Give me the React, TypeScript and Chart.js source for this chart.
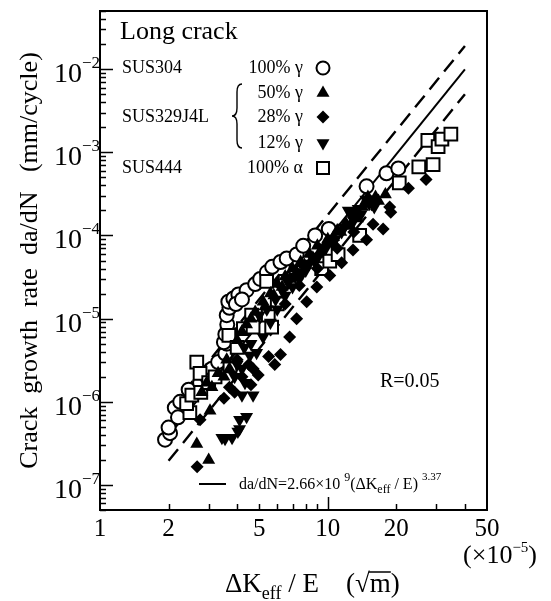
import React, { useEffect, useRef } from 'react';
import { Chart, registerables } from 'chart.js';

Chart.register(...registerables);

const FONT = "'Liberation Serif', 'Times New Roman', Times, serif";

// Axis ranges (x in units of 1e-5 sqrt(m), y in mm/cycle)
const xMin = 1;
const xMax = 50;
const yMin = 5e-8;
const yMax = 5e-2;
const xTickValues = [1, 2, 5, 10, 20, 50];
const xTickLabels = ['1', '2', '5', '10', '20', '50'];
const yTickExponents = [-7, -6, -5, -4, -3, -2];
const yTickLabels = ['−7', '−6', '−5', '−4', '−3', '−2'];

// SUS304, 100% gamma (open circles)
const sus304 = [
  [1.93, 3.5e-7], [2.03, 4.2e-7], [2.0, 4.9e-7], [2.13, 8.5e-7], [2.2, 6.5e-7], [2.25, 1.0e-6],
  [2.45, 1.4e-6], [2.75, 1.7e-6], [2.95, 2.0e-6], [3.1, 2.5e-6], [3.3, 3.0e-6], [3.55, 3.8e-6],
  [3.6, 5.0e-6], [3.5, 5.2e-6], [3.55, 6.5e-6], [3.62, 8.5e-6], [3.6, 1.1e-5], [3.7, 1.35e-5],
  [3.66, 1.6e-5], [3.85, 1.75e-5], [4.05, 1.95e-5], [3.95, 1.5e-5], [4.4, 2.2e-5], [4.2, 1.7e-5],
  [4.8, 2.6e-5], [5.05, 3.0e-5], [5.4, 3.6e-5], [5.7, 4.2e-5], [6.2, 4.8e-5], [6.6, 5.3e-5],
  [7.3, 5.9e-5], [7.8, 7.5e-5], [8.8, 1.0e-4], [10.1, 1.2e-4], [14.8, 3.9e-4], [18.1, 5.6e-4],
  [20.4, 6.4e-4],
];

// SUS329J4L, 50% gamma (filled triangles)
const g50 = [
  [2.66, 3.1e-7], [3.0, 2.0e-7], [3.04, 7.8e-7], [2.94, 1.7e-6], [2.8, 1.3e-6], [3.3, 2.2e-6],
  [3.1, 1.5e-6], [3.5, 2.0e-6], [3.7, 2.5e-6], [3.6, 3.2e-6], [4.0, 5.5e-6], [4.2, 7.0e-6],
  [4.4, 8.5e-6], [4.6, 1.0e-5], [4.8, 1.2e-5], [5.2, 1.6e-5], [5.3, 1.4e-5], [5.6, 2.0e-5],
  [5.8, 1.9e-5], [6.0, 2.6e-5], [6.3, 2.4e-5], [6.5, 3.2e-5], [6.8, 3.0e-5], [7.0, 4.0e-5],
  [7.3, 3.6e-5], [7.6, 4.8e-5], [7.9, 4.4e-5], [8.3, 6.0e-5], [8.6, 5.4e-5], [9.0, 7.5e-5],
  [9.3, 6.6e-5], [9.8, 8.0e-5], [10.0, 9.0e-5], [10.6, 9.5e-5], [11.0, 1.15e-4], [11.4, 1.1e-4],
  [12.0, 1.4e-4], [12.5, 1.3e-4], [13.0, 1.8e-4], [13.5, 1.6e-4], [14.2, 2.2e-4], [14.5, 2.4e-4],
  [15.0, 2.9e-4], [15.5, 2.5e-4], [16.2, 2.9e-4], [16.7, 2.6e-4], [17.9, 3.1e-4],
];

// SUS329J4L, 28% gamma (filled diamonds)
const g28 = [
  [2.67, 1.66e-7], [2.75, 6.1e-7], [3.5, 1.1e-6], [3.7, 1.5e-6], [3.9, 1.3e-6], [4.2, 2.0e-6],
  [4.0, 3.2e-6], [4.5, 2.8e-6], [4.6, 1.6e-6], [4.95, 2.1e-6], [4.7, 2.5e-6], [5.5, 3.5e-6],
  [5.85, 2.8e-6], [6.2, 3.7e-6], [6.8, 6.0e-6], [7.3, 1.0e-5], [6.5, 1.5e-5], [8.08, 1.6e-5],
  [7.5, 2.5e-5], [8.95, 2.4e-5], [9.0, 4.0e-5], [10.2, 3.3e-5], [11.5, 4.7e-5], [11.0, 7.0e-5],
  [12.9, 6.7e-5], [13.0, 1.1e-4], [14.8, 8.9e-5], [17.5, 1.2e-4], [15.8, 1.36e-4], [18.9, 1.9e-4],
  [18.7, 2.2e-4], [22.6, 3.7e-4], [27.0, 4.7e-4],
];

// SUS329J4L, 12% gamma (filled inverted triangles)
const g12 = [
  [3.54, 3.6e-7], [3.43, 3.7e-7], [3.8, 3.7e-7], [4.03, 4.4e-7], [4.1, 4.7e-7], [4.1, 6.1e-7],
  [4.4, 6.6e-7], [4.2, 1.2e-6], [4.33, 1.7e-6], [4.7, 1.2e-6], [3.9, 2.0e-6], [4.2, 2.5e-6],
  [4.0, 2.8e-6], [4.55, 3.6e-6], [4.3, 4.5e-6], [4.87, 3.9e-6], [4.6, 5.0e-6], [5.2, 6.0e-6],
  [5.0, 1.1e-5], [5.4, 1.3e-5], [5.6, 9.0e-6], [5.9, 1.7e-5], [6.0, 1.3e-5], [6.3, 2.2e-5],
  [6.5, 1.9e-5], [6.7, 2.7e-5], [7.0, 2.4e-5], [7.2, 3.2e-5], [7.5, 3.0e-5], [7.7, 3.6e-5],
  [8.0, 3.8e-5], [8.3, 4.6e-5], [8.7, 5.0e-5], [9.1, 5.6e-5], [9.5, 6.5e-5], [9.8, 7.0e-5],
  [10.5, 8.0e-5], [10.8, 9.0e-5], [11.5, 1.1e-4], [11.8, 1.25e-4], [12.3, 2.0e-4], [12.8, 1.65e-4],
  [13.0, 1.5e-4], [13.6, 2.1e-4], [14.0, 1.8e-4], [14.7, 2.7e-4], [15.2, 2.4e-4], [16.0, 2.2e-4],
];

// SUS444, 100% alpha (open squares)
const sus444 = [
  [2.48, 7.4e-7], [2.4, 9.5e-7], [2.53, 1.2e-6], [2.77, 1.3e-6], [2.66, 3.0e-6], [2.75, 2.2e-6],
  [3.0, 1.7e-6], [3.2, 2.0e-6], [3.72, 2.7e-6], [3.68, 6.3e-6], [4.26, 7.6e-6], [4.0, 4.5e-6],
  [4.63, 1.1e-5], [4.7, 7.9e-6], [5.48, 1.1e-5], [5.67, 7.9e-6], [6.0, 1.5e-5], [5.39, 2.8e-5],
  [6.5, 2.8e-5], [7.06, 3.0e-5], [7.25, 3.6e-5], [9.4, 4.0e-5], [10.2, 4.9e-5], [11.1, 5.9e-5],
  [13.8, 1.0e-4], [20.6, 4.3e-4], [25.1, 6.7e-4], [29.0, 7.1e-4], [27.5, 1.39e-3], [30.5, 1.17e-3],
  [31.7, 1.44e-3], [34.7, 1.65e-3],
];

// Fit line da/dN = 2.66e9 (dK/E)^3.37 and its factor-2 band (end points)
const fitX = [2, 40];
const fitSolid = [3.9e-7, 9.9e-3];
const fitUpper = [7.8e-7, 1.9e-2];
const fitLower = [1.95e-7, 5.0e-3];

type Part = { t: string; size: number; dy?: number };

function drawRich(ctx: CanvasRenderingContext2D, parts: Part[], x: number, y: number, align: 'left' | 'right' | 'center' = 'left') {
  let total = 0;
  const widths = parts.map((p) => {
    ctx.font = `${p.size}px ${FONT}`;
    const w = ctx.measureText(p.t).width;
    total += w;
    return w;
  });
  let cx = align === 'left' ? x : align === 'right' ? x - total : x - total / 2;
  ctx.textAlign = 'left';
  ctx.textBaseline = 'alphabetic';
  parts.forEach((p, i) => {
    ctx.font = `${p.size}px ${FONT}`;
    ctx.fillText(p.t, cx, y + (p.dy || 0));
    cx += widths[i];
  });
  return total;
}

function marker(ctx: CanvasRenderingContext2D, kind: string, x: number, y: number) {
  ctx.save();
  ctx.lineWidth = 2;
  ctx.strokeStyle = '#000';
  ctx.fillStyle = '#000';
  ctx.beginPath();
  if (kind === 'circle') {
    ctx.arc(x, y, 6.5, 0, Math.PI * 2);
    ctx.fillStyle = '#fff';
    ctx.fill();
    ctx.stroke();
  } else if (kind === 'square') {
    ctx.rect(x - 6, y - 6, 12, 12);
    ctx.fillStyle = '#fff';
    ctx.fill();
    ctx.stroke();
  } else if (kind === 'tri') {
    const r = 7.5;
    ctx.moveTo(x, y - r);
    ctx.lineTo(x + r * 0.866, y + r * 0.5);
    ctx.lineTo(x - r * 0.866, y + r * 0.5);
    ctx.closePath();
    ctx.fill();
  } else if (kind === 'itri') {
    const r = 7.5;
    ctx.moveTo(x, y + r);
    ctx.lineTo(x + r * 0.866, y - r * 0.5);
    ctx.lineTo(x - r * 0.866, y - r * 0.5);
    ctx.closePath();
    ctx.fill();
  } else if (kind === 'diamond') {
    const r = 6.5;
    ctx.moveTo(x, y - r);
    ctx.lineTo(x + r, y);
    ctx.lineTo(x, y + r);
    ctx.lineTo(x - r, y);
    ctx.closePath();
    ctx.fill();
  }
  ctx.restore();
}

const decor = {
  id: 'decor',
  afterDraw(chart: any) {
    const ctx: CanvasRenderingContext2D = chart.ctx;
    const { left, right, top, bottom } = chart.chartArea;
    const xs = chart.scales.x;
    const ys = chart.scales.y;
    ctx.save();
    ctx.fillStyle = '#000';
    ctx.strokeStyle = '#000';

    // frame
    ctx.lineWidth = 2;
    ctx.strokeRect(left, top, right - left, bottom - top);

    // y ticks (inward)
    ctx.lineWidth = 1.5;
    for (let n = -8; n <= -2; n++) {
      for (let k = 1; k <= 9; k++) {
        const v = k * Math.pow(10, n);
        if (v < yMin * 0.999 || v > yMax * 1.001) continue;
        const py = Math.round(ys.getPixelForValue(v)) + 0.5;
        const len = k === 1 ? 13 : 6;
        ctx.beginPath();
        ctx.moveTo(left, py);
        ctx.lineTo(left + len, py);
        ctx.stroke();
      }
    }
    // x ticks (inward)
    for (let n = 0; n <= 1; n++) {
      for (let k = 1; k <= 9; k++) {
        const v = k * Math.pow(10, n);
        if (v <= xMin || v >= xMax) continue;
        const px = Math.round(xs.getPixelForValue(v)) + 0.5;
        const len = k === 1 ? 13 : 6;
        ctx.beginPath();
        ctx.moveTo(px, bottom);
        ctx.lineTo(px, bottom - len);
        ctx.stroke();
      }
    }

    // y tick labels
    yTickExponents.forEach((e, i) => {
      const py = ys.getPixelForValue(Math.pow(10, e));
      ctx.font = `28px ${FONT}`;
      ctx.textAlign = 'right';
      ctx.textBaseline = 'alphabetic';
      ctx.fillText('10', 82, py + 13);
      ctx.font = `17px ${FONT}`;
      ctx.textAlign = 'left';
      ctx.fillText(yTickLabels[i], 82, py - 1);
    });

    // x tick labels
    ctx.font = `25px ${FONT}`;
    ctx.textAlign = 'center';
    ctx.textBaseline = 'alphabetic';
    xTickValues.forEach((v, i) => {
      ctx.fillText(xTickLabels[i], xs.getPixelForValue(v), 536);
    });

    // (x10^-5)
    drawRich(ctx, [
      { t: '(×10', size: 26 },
      { t: '−5', size: 15, dy: -11 },
      { t: ')', size: 26 },
    ], 537, 563, 'right');

    // x title
    const tx = 225;
    const w = drawRich(ctx, [
      { t: 'ΔK', size: 27 },
      { t: 'eff', size: 18, dy: 7 },
      { t: ' / E    (', size: 27 },
    ], tx, 592, 'left');
    ctx.font = `27px ${FONT}`;
    const sq = ctx.measureText('√').width;
    const mW = ctx.measureText('m').width;
    ctx.fillText('√', tx + w, 592);
    ctx.fillText('m', tx + w + sq, 592);
    ctx.fillText(')', tx + w + sq + mW, 592);
    ctx.lineWidth = 1.5;
    ctx.beginPath();
    ctx.moveTo(tx + w + sq - 1, 572);
    ctx.lineTo(tx + w + sq + mW, 572);
    ctx.stroke();

    // y title
    ctx.save();
    ctx.translate(30, (top + bottom) / 2);
    ctx.rotate(-Math.PI / 2);
    ctx.font = `26px ${FONT}`;
    ctx.textAlign = 'center';
    ctx.textBaseline = 'middle';
    ctx.fillText('Crack  growth  rate  da/dN   (mm/cycle)', 0, 0);
    ctx.restore();

    // Long crack
    ctx.font = `26px ${FONT}`;
    ctx.textAlign = 'left';
    ctx.textBaseline = 'middle';
    ctx.fillText('Long crack', 120, 32);

    // legend
    ctx.font = `18px ${FONT}`;
    ctx.textBaseline = 'middle';
    ctx.textAlign = 'left';
    ctx.fillText('SUS304', 122, 68);
    ctx.fillText('SUS329J4L', 122, 117);
    ctx.fillText('SUS444', 122, 168);
    const rows: [string, number, string][] = [
      ['100% γ', 68, 'circle'],
      ['50% γ', 93, 'tri'],
      ['28% γ', 117, 'diamond'],
      ['12% γ', 143, 'itri'],
      ['100% α', 168, 'square'],
    ];
    rows.forEach(([t, y, k]) => {
      ctx.font = `18px ${FONT}`;
      ctx.textAlign = 'right';
      ctx.textBaseline = 'middle';
      ctx.fillText(t, 303, y);
      marker(ctx, k, 323, y);
    });
    // brace
    ctx.lineWidth = 1.4;
    ctx.beginPath();
    const bx = 242, by0 = 84, by1 = 148, bm = 116;
    ctx.moveTo(bx, by0);
    ctx.quadraticCurveTo(bx - 5, by0, bx - 5, by0 + 8);
    ctx.lineTo(bx - 5, bm - 8);
    ctx.quadraticCurveTo(bx - 5, bm, bx - 10, bm);
    ctx.quadraticCurveTo(bx - 5, bm, bx - 5, bm + 8);
    ctx.lineTo(bx - 5, by1 - 8);
    ctx.quadraticCurveTo(bx - 5, by1, bx, by1);
    ctx.stroke();

    // R=0.05
    ctx.font = `20px ${FONT}`;
    ctx.textAlign = 'left';
    ctx.textBaseline = 'middle';
    ctx.fillText('R=0.05', 380, 382);

    // formula legend
    ctx.lineWidth = 2;
    ctx.beginPath();
    ctx.moveTo(199, 484);
    ctx.lineTo(226, 484);
    ctx.stroke();
    drawRich(ctx, [
      { t: 'da/dN=2.66×10 ', size: 16 },
      { t: '9', size: 12, dy: -8 },
      { t: '(ΔK', size: 16 },
      { t: 'eff', size: 12, dy: 4 },
      { t: ' / E) ', size: 16 },
      { t: '3.37', size: 11, dy: -9 },
    ], 239, 489, 'left');

    ctx.restore();
  },
};

const toPts = (arr: number[][]) => arr.map(([x, y]) => ({ x, y }));
const linePts = (ys: number[]) => fitX.map((x, i) => ({ x, y: ys[i] }));

export default function App() {
  const ref = useRef<HTMLCanvasElement>(null);
  useEffect(() => {
    const canvas = ref.current as HTMLCanvasElement;
    const common = { showLine: false, borderColor: '#000', borderWidth: 2 };
    const chart = new Chart(canvas, {
      type: 'scatter',
      data: {
        datasets: [
          { ...common, label: '12% γ', data: toPts(g12), pointStyle: 'triangle', rotation: 180, pointRadius: 7.5, backgroundColor: '#000', borderWidth: 0 } as any,
          { ...common, label: '28% γ', data: toPts(g28), pointStyle: 'rectRot', pointRadius: 6.5, backgroundColor: '#000', borderWidth: 0 } as any,
          { ...common, label: '50% γ', data: toPts(g50), pointStyle: 'triangle', pointRadius: 7.5, backgroundColor: '#000', borderWidth: 0 } as any,
          { ...common, label: '100% α', data: toPts(sus444), pointStyle: 'rect', pointRadius: 9, backgroundColor: '#fff' } as any,
          { ...common, label: '100% γ', data: toPts(sus304), pointStyle: 'circle', pointRadius: 7, backgroundColor: '#fff' } as any,
          { label: 'fit', data: linePts(fitSolid), showLine: true, pointRadius: 0, borderColor: '#000', borderWidth: 2, fill: false } as any,
          { label: 'upper', data: linePts(fitUpper), showLine: true, pointRadius: 0, borderColor: '#000', borderWidth: 2.4, borderDash: [15, 8], fill: false } as any,
          { label: 'lower', data: linePts(fitLower), showLine: true, pointRadius: 0, borderColor: '#000', borderWidth: 2.4, borderDash: [15, 8], fill: false } as any,
        ],
      },
      options: {
        animation: false,
        responsive: false,
        maintainAspectRatio: false,
        devicePixelRatio: 1,
        events: [],
        layout: { padding: { left: 100, right: 64, top: 6, bottom: 91 } },
        plugins: { legend: { display: false }, tooltip: { enabled: false }, title: { display: false } },
        scales: {
          x: {
            type: 'logarithmic', min: xMin, max: xMax,
            ticks: { display: false }, grid: { display: false }, border: { display: false },
            afterFit: (s: any) => { s.height = 0; },
          },
          y: {
            type: 'logarithmic', min: yMin, max: yMax,
            ticks: { display: false }, grid: { display: false }, border: { display: false },
            afterFit: (s: any) => { s.width = 0; },
          },
        },
      } as any,
      plugins: [decor],
    });
    return () => chart.destroy();
  }, []);
  return (
    <div style={{ position: 'absolute', left: 0, top: 0, width: 551, height: 601, background: '#fff' }}>
      <canvas ref={ref} width={551} height={601} style={{ display: 'block', width: 551, height: 601 }} />
    </div>
  );
}
